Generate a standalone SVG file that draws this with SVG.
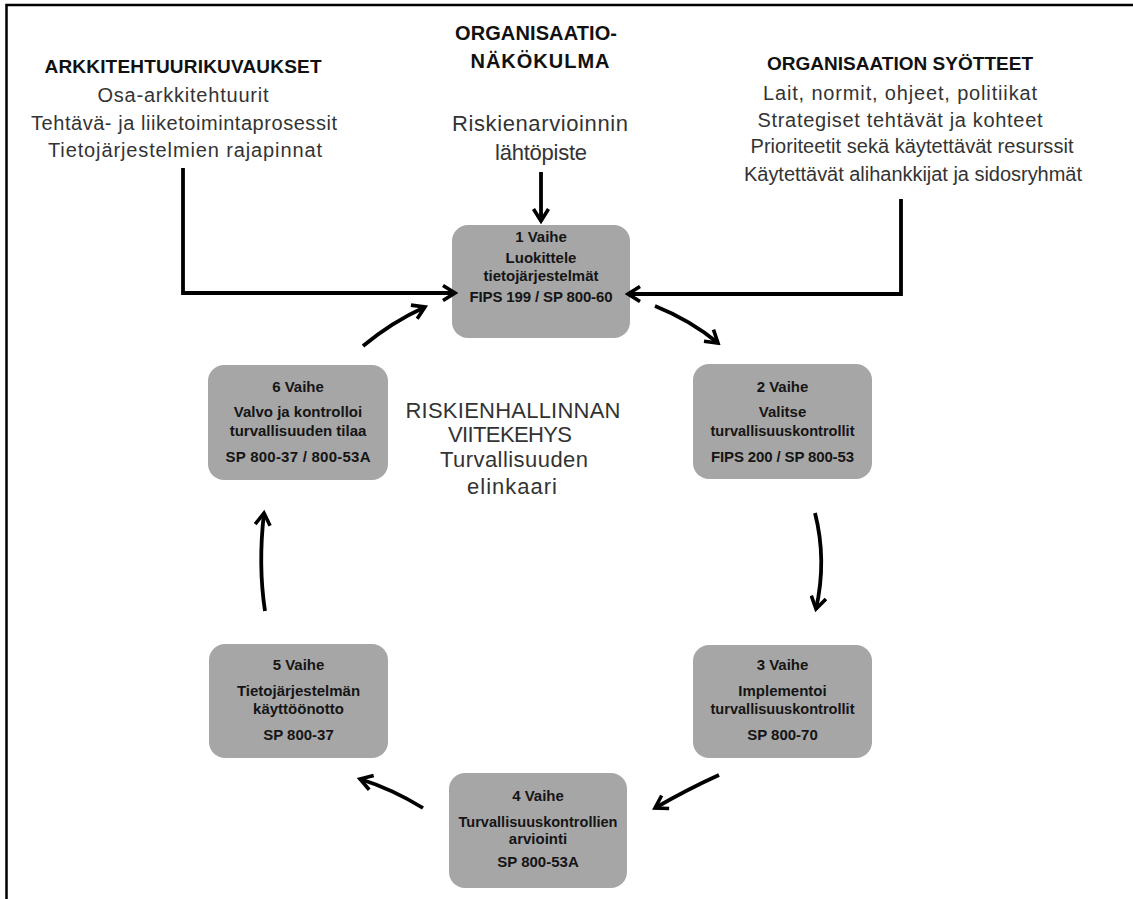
<svg xmlns="http://www.w3.org/2000/svg" width="1133" height="899" viewBox="0 0 1133 899">
<defs>
<style>
.frame{fill:none;stroke:#000;stroke-width:2.5}
.node rect{fill:#a6a6a6}
.node text{font-family:"Liberation Sans",Arial,sans-serif;font-size:15px;font-weight:bold;fill:#151515;text-anchor:middle}
.hd{font-family:"Liberation Sans",Arial,sans-serif;font-weight:bold;fill:#111;text-anchor:middle}
.tx{font-family:"Liberation Sans",Arial,sans-serif;fill:#333;text-anchor:middle}
.conn path{fill:none;stroke:#000;stroke-width:3.8;marker-end:url(#arr)}
</style>
<marker id="arr" markerUnits="userSpaceOnUse" viewBox="0 0 18 18" markerWidth="18" markerHeight="18" refX="15" refY="9" orient="auto">
<path d="M3,1.5 L15,9 L3,16.5" fill="none" stroke="#000" stroke-width="3.6"/>
</marker>
</defs>
<rect class="frame" x="6.5" y="5" width="1140" height="910"/>

<g id="labels">
<text class="hd" x="183" y="73" font-size="19" textLength="277">ARKKITEHTUURIKUVAUKSET</text>
<text class="tx" x="183" y="102" font-size="20" textLength="171">Osa-arkkitehtuurit</text>
<text class="tx" x="184" y="130" font-size="20" textLength="306">Tehtävä- ja liiketoimintaprosessit</text>
<text class="tx" x="185" y="157" font-size="20" textLength="274">Tietojärjestelmien rajapinnat</text>

<text class="hd" x="536" y="40" font-size="20" textLength="162">ORGANISAATIO-</text>
<text class="hd" x="540" y="68" font-size="20" textLength="139">NÄKÖKULMA</text>
<text class="tx" x="540" y="131" font-size="22" textLength="176" fill="#222">Riskienarvioinnin</text>
<text class="tx" x="541" y="160" font-size="22" textLength="92" fill="#222">lähtöpiste</text>

<text class="hd" x="900" y="70" font-size="19" textLength="266">ORGANISAATION SYÖTTEET</text>
<text class="tx" x="900" y="100" font-size="20" textLength="274">Lait, normit, ohjeet, politiikat</text>
<text class="tx" x="900" y="127" font-size="20" textLength="285">Strategiset tehtävät ja kohteet</text>
<text class="tx" x="912" y="153" font-size="20" textLength="323">Prioriteetit sekä käytettävät resurssit</text>
<text class="tx" x="913" y="181" font-size="20" textLength="338">Käytettävät alihankkijat ja sidosryhmät</text>

<text class="tx" x="513" y="418" font-size="22" textLength="215" fill="#222">RISKIENHALLINNAN</text>
<text class="tx" x="510" y="442" font-size="22" textLength="124" fill="#222">VIITEKEHYS</text>
<text class="tx" x="514" y="467" font-size="22" textLength="148" fill="#222">Turvallisuuden</text>
<text class="tx" x="512" y="494" font-size="22" textLength="90" fill="#222">elinkaari</text>
</g>

<g id="node1" class="node">
<rect x="452" y="225" width="178" height="113" rx="16"/>
<text x="541" y="242">1 Vaihe</text>
<text x="541" y="263">Luokittele</text>
<text x="541" y="281">tietojärjestelmät</text>
<text x="541" y="302" textLength="143">FIPS 199 / SP 800-60</text>
</g>
<g id="node2" class="node">
<rect x="693" y="364" width="179" height="115" rx="16"/>
<text x="782.5" y="392">2 Vaihe</text>
<text x="782.5" y="417">Valitse</text>
<text x="782.5" y="436" textLength="144" lengthAdjust="spacingAndGlyphs">turvallisuuskontrollit</text>
<text x="782.5" y="462" textLength="143">FIPS 200 / SP 800-53</text>
</g>
<g id="node3" class="node">
<rect x="693" y="645" width="179" height="113" rx="16"/>
<text x="782.5" y="670">3 Vaihe</text>
<text x="782.5" y="696">Implementoi</text>
<text x="782.5" y="714" textLength="144" lengthAdjust="spacingAndGlyphs">turvallisuuskontrollit</text>
<text x="782.5" y="740">SP 800-70</text>
</g>
<g id="node4" class="node">
<rect x="449" y="773" width="178" height="115" rx="16"/>
<text x="538" y="801">4 Vaihe</text>
<text x="538" y="827" textLength="159" lengthAdjust="spacingAndGlyphs">Turvallisuuskontrollien</text>
<text x="538" y="844">arviointi</text>
<text x="538" y="867">SP 800-53A</text>
</g>
<g id="node5" class="node">
<rect x="209" y="644" width="179" height="114" rx="16"/>
<text x="298.5" y="670">5 Vaihe</text>
<text x="298.5" y="696">Tietojärjestelmän</text>
<text x="298.5" y="714">käyttöönotto</text>
<text x="298.5" y="740">SP 800-37</text>
</g>
<g id="node6" class="node">
<rect x="208" y="365" width="180" height="115" rx="16"/>
<text x="298" y="392">6 Vaihe</text>
<text x="298" y="417">Valvo ja kontrolloi</text>
<text x="298" y="436">turvallisuuden tilaa</text>
<text x="298" y="462" textLength="145">SP 800-37 / 800-53A</text>
</g>

<g id="connectors" class="conn">
<path d="M183,168 L183,293 L455,293"/>
<path d="M901,199 L901,294 L628,294"/>
<path d="M541,172 L541,221"/>
<path d="M363,346 Q392,322 425,307"/>
<path d="M655,306 Q690,320 718,343"/>
<path d="M815,513 Q827,560 816,609"/>
<path d="M719,775 Q688,789 655,808"/>
<path d="M423,808 Q392,789 360,779"/>
<path d="M265,611 Q258,565 264,513"/>
</g>
</svg>
